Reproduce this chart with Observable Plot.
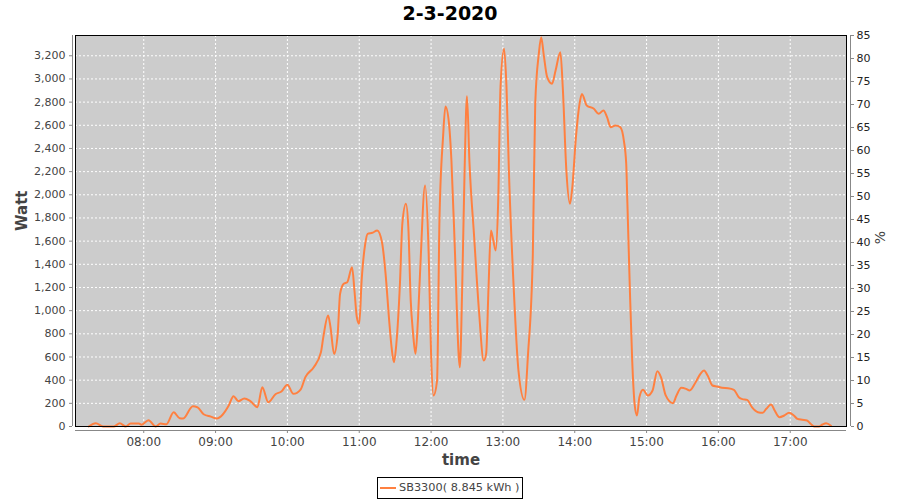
<!DOCTYPE html>
<html>
<head>
<meta charset="utf-8">
<script src="https://cdn.jsdelivr.net/npm/d3@7"></script>
<script src="https://cdn.jsdelivr.net/npm/@observablehq/plot@0.6"></script>
<style>
  body { margin: 0; background: #fff; }
  #wrap { position: relative; width: 900px; height: 500px; font-family: "DejaVu Sans", sans-serif; }
  #title { position: absolute; left: 0; top: 2px; width: 900px; text-align: center;
           font: bold 19px "DejaVu Sans", sans-serif; color: #000; }
  #chart { position: absolute; left: 0; top: 0; }
  #legend { position: absolute; left: 377px; top: 477px; width: 146px; height: 22px; box-sizing: border-box;
            border: 1px solid #000; font: 11.3px "DejaVu Sans", sans-serif; color: #444; line-height: 20px;
            padding-left: 21px; white-space: nowrap; }
  #legend .sw { position: absolute; left: 2px; top: 9px; width: 16px; height: 2px; background: #ff8040; }
</style>
</head>
<body>
<div id="wrap">
  <div id="chart"></div>
  <div id="title">2-3-2020</div>
  <div id="legend"><span class="sw"></span>SB3300( 8.845 kWh )</div>
</div>
<script>
// ---- data ----
const day = "2020-03-02";
const xStart = "07:03";
const xEnd = "17:47";
const times = [
  "07:14","07:20","07:26","07:35","07:40","07:45","07:49","07:56","07:58","08:04",
  "08:10","08:14","08:19","08:25","08:30","08:33","08:41","08:45","08:50","08:56",
  "09:01","09:06","09:11","09:15","09:19","09:24","09:29","09:35","09:39","09:44",
  "09:50","09:55","10:00","10:05","10:11","10:15","10:22","10:28","10:30","10:34",
  "10:36","10:39","10:42","10:44","10:47","10:50","10:54","10:56","10:58","11:00",
  "11:02","11:05","11:07","11:11","11:15","11:19","11:22","11:25","11:27","11:29",
  "11:31","11:34","11:36","11:39","11:41","11:43","11:45","11:47","11:49","11:51",
  "11:55","11:58","12:00","12:02","12:05","12:07","12:10","12:12","12:15","12:17",
  "12:20","12:23","12:24","12:26","12:28","12:30","12:32","12:36","12:40","12:44",
  "12:46","12:48","12:50","12:52","12:54","12:56","12:58","13:01","13:03","13:05",
  "13:09","13:13","13:18","13:21","13:25","13:27","13:30","13:32","13:34","13:37",
  "13:41","13:44","13:48","13:50","13:53","13:56","13:58","14:01","14:04","14:06",
  "14:10","14:16","14:20","14:24","14:27","14:30","14:34","14:38","14:41","14:43",
  "14:44","14:46","14:48","14:50","14:52","14:54","14:57","15:01","15:05","15:09",
  "15:12","15:16","15:22","15:25","15:29","15:33","15:36","15:41","15:45","15:48",
  "15:51","15:55","15:59","16:03","16:08","16:13","16:17","16:20","16:24","16:28",
  "16:33","16:37","16:40","16:44","16:47","16:51","16:55","16:59","17:03","17:06",
  "17:10","17:14","17:17","17:20","17:24","17:27","17:30","17:34"
];
const watts = [
  0,28,0,0,28,0,25,25,15,55,
  0,25,20,123,72,70,175,165,106,85,
  69,104,181,262,219,242,219,167,339,210,
  279,302,360,282,319,426,512,641,771,958,
  857,627,800,1145,1232,1246,1375,1174,943,886,
  1260,1577,1663,1672,1692,1591,1318,915,685,555,
  714,1232,1750,1922,1720,1088,800,627,915,1375,
  2080,1491,627,268,397,1778,2497,2762,2613,2296,
  1491,627,512,1202,2210,2850,2296,1634,1001,570,
  627,1202,1692,1605,1519,1922,2929,3260,2929,2210,
  1202,483,230,627,1491,2785,3217,3360,3217,3015,
  2958,3073,3231,2929,2210,1922,2066,2497,2785,2871,
  2771,2742,2699,2728,2670,2584,2598,2584,2469,2268,
  1922,1202,570,196,95,253,317,268,311,477,
  426,268,201,268,334,325,311,382,455,483,
  440,354,345,334,331,317,253,236,230,167,
  123,118,153,190,138,80,95,118,95,66,
  58,52,23,0,0,17,28,6
];
const xTickLabels = ["08:00","09:00","10:00","11:00","12:00","13:00","14:00","15:00","16:00","17:00"];
const wattTicks = [0,200,400,600,800,1000,1200,1400,1600,1800,2000,2200,2400,2600,2800,3000,3200];
const pctTicks = [0,5,10,15,20,25,30,35,40,45,50,55,60,65,70,75,80,85];
const yMax = 3375;   // Watt at top of plot
const pctMax = 85;   // % at top of plot

// ---- chart ----
const parse = t => new Date(`${day}T${t}:00`);
const data = times.map((t, i) => ({time: parse(t), watt: watts[i]}));
const xTicks = xTickLabels.map(parse);
const orange = "#ff8040";
const axisGray = "#888";

const chart = Plot.plot({
  width: 900,
  height: 475,
  marginLeft: 75,
  marginRight: 54,
  marginTop: 35,
  marginBottom: 49,
  style: {fontFamily: '"DejaVu Sans", sans-serif', fontSize: "11px", color: "#444", background: "transparent"},
  x: {type: "time", domain: [parse(xStart), parse(xEnd)]},
  y: {domain: [0, yMax]},
  marks: [
    Plot.frame({fill: "#cccccc"}),
    Plot.gridX({ticks: xTicks, stroke: "#fff", strokeOpacity: 1, strokeDasharray: "2,2"}),
    Plot.gridY({ticks: wattTicks, stroke: "#fff", strokeOpacity: 1, strokeDasharray: "2,2"}),
    Plot.line(data, {x: "time", y: "watt", stroke: orange, strokeWidth: 2, curve: "monotone-x"}),
    Plot.frame({stroke: "#000", strokeWidth: 1}),
    Plot.axisY({anchor: "left", ticks: wattTicks, tickFormat: d3.format(","), tickSize: 3, tickPadding: 4,
                dx: -3, label: null, stroke: axisGray, fill: "#444"}),
    Plot.axisY({anchor: "right", ticks: pctTicks.map(p => p * yMax / pctMax),
                tickFormat: d => String(Math.round(d * pctMax / yMax)), tickSize: 3, tickPadding: 3,
                dx: 4, label: null, stroke: axisGray, fill: "#222"}),
    Plot.axisX({ticks: xTicks, tickFormat: d3.timeFormat("%H:%M"), tickSize: 3, tickPadding: 4,
                dy: 4, label: null, stroke: axisGray, fill: "#444", fontSize: 12}),
    Plot.ruleX([parse(xStart)], {dx: -3, stroke: axisGray}),
    Plot.ruleX([parse(xEnd)], {dx: 4, stroke: axisGray}),
    Plot.ruleY([0], {dy: 4, stroke: axisGray}),
    Plot.text(["Watt"], {frameAnchor: "left", dx: -53, rotate: -90, fontSize: 15, fontWeight: "bold", fill: "#444"}),
    Plot.text(["%"], {frameAnchor: "right", dx: 34, rotate: -90, fontSize: 14, fill: "#444"}),
    Plot.text(["time"], {frameAnchor: "bottom", lineAnchor: "middle", dy: 34, fontSize: 15, fontWeight: "bold", fill: "#444"})
  ]
});
document.getElementById("chart").appendChild(chart);
</script>
</body>
</html>
